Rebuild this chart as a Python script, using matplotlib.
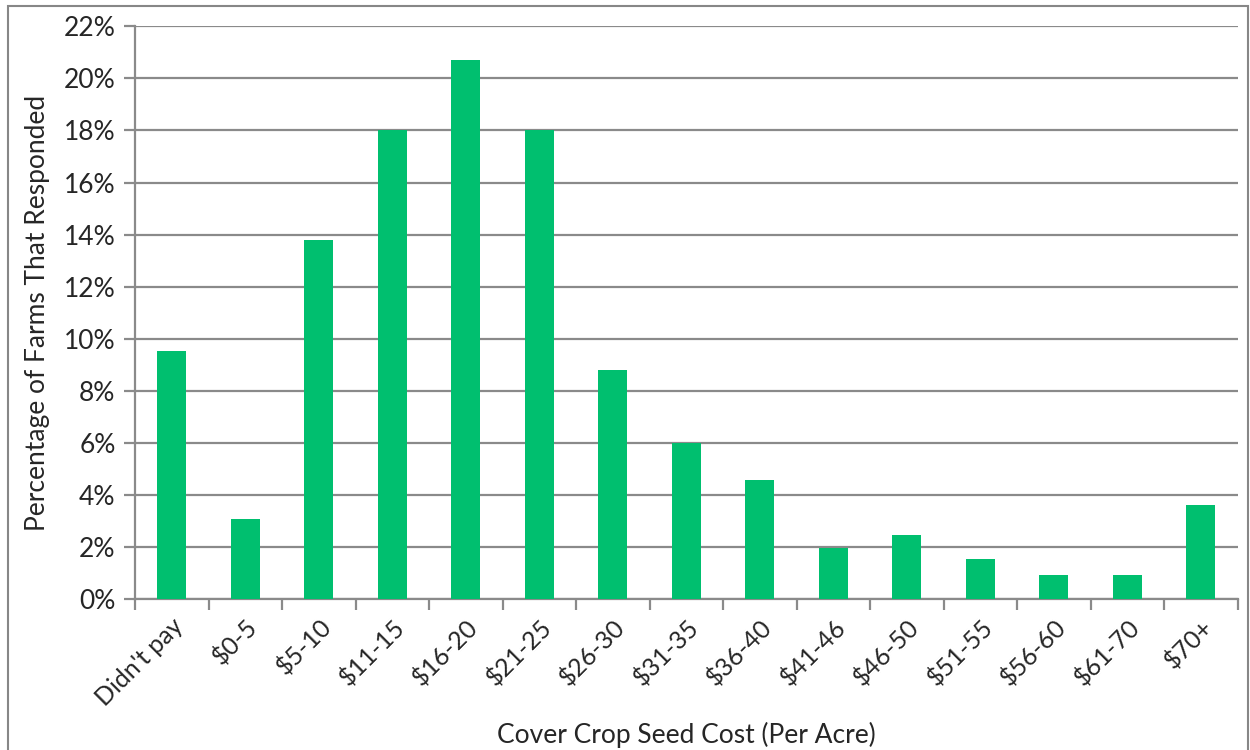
import matplotlib.pyplot as plt
import numpy as np
from matplotlib.patches import Rectangle
from matplotlib.ticker import FuncFormatter

# Cover crop seed cost survey (share of responding farms, %)
categories = [
    "Didn't pay", "$0-5", "$5-10", "$11-15", "$16-20", "$21-25", "$26-30",
    "$31-35", "$36-40", "$41-46", "$46-50", "$51-55", "$56-60", "$61-70", "$70+",
]
percent = [9.55, 3.07, 13.78, 18.0, 20.69, 18.0, 8.79, 6.0, 4.57, 1.96, 2.47, 1.55, 0.95, 0.95, 3.6]
y_ticks = list(range(0, 23, 2))

BAR = "#00BF6F"
GRID = "#8a8a8a"
TEXT = "#262626"
FS = 19

plt.rcParams["font.family"] = ["Lato", "DejaVu Sans"]

fig = plt.figure(figsize=(12.5, 7.5), dpi=100)
ax = fig.add_axes([0.108, 0.201, 0.882, 0.764])

x = np.arange(len(categories))
ax.bar(x, percent, width=0.4, color=BAR, zorder=3)

ax.set_xlim(-0.5, len(categories) - 0.5)
ax.set_ylim(0, 22)
ax.set_yticks(y_ticks)
ax.yaxis.set_major_formatter(FuncFormatter(lambda v, _: f"{v:.0f}%"))
ax.grid(axis="y", color=GRID, linewidth=1.6, zorder=0)
ax.set_axisbelow(True)

# category labels centered, ticks at boundaries
ax.set_xticks(x)
ax.set_xticklabels(categories, rotation=45, ha="right", rotation_mode="anchor")
ax.set_xticks(np.arange(-0.5, len(categories), 1.0), minor=True)
ax.tick_params(axis="x", which="major", length=0, pad=11, labelsize=18, labelcolor=TEXT)
ax.tick_params(axis="x", which="minor", length=8, width=1.6, color=GRID, direction="out")
ax.tick_params(axis="y", length=8, width=1.6, color=GRID, labelsize=FS, labelcolor=TEXT, pad=6)

for side in ("top", "right"):
    ax.spines[side].set_visible(False)
for side in ("left", "bottom"):
    ax.spines[side].set_color(GRID)
    ax.spines[side].set_linewidth(1.6)

ax.set_ylabel("Percentage of Farms That Responded", fontsize=FS, color=TEXT, labelpad=10)
ax.set_xlabel("Cover Crop Seed Cost (Per Acre)", fontsize=FS, color=TEXT, va="center")
ax.xaxis.set_label_coords(0.5, -0.237)

# outer chart border
fig.patches.append(Rectangle((0.006, -0.01), 0.992, 1.002, transform=fig.transFigure,
                             fill=False, edgecolor="#878787", linewidth=1.5))

fig.savefig("out.png", dpi=100)
